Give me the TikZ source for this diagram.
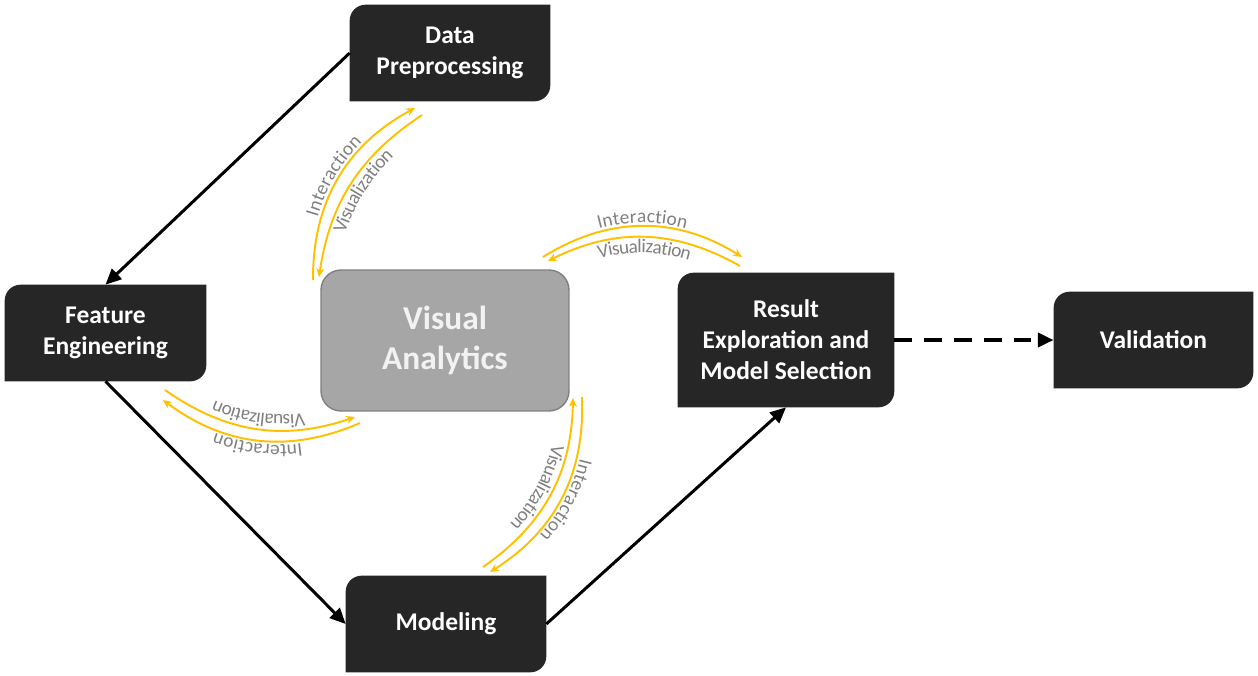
\documentclass[tikz,border=0pt]{standalone}
\usepackage{fontspec}
\setmainfont{Carlito}
\usetikzlibrary{arrows.meta,decorations.text,backgrounds,calc}
\definecolor{boxfill}{HTML}{262626}
\definecolor{vafill}{HTML}{A6A6A6}
\definecolor{vaedge}{HTML}{808080}
\definecolor{gold}{HTML}{FFC000}
\definecolor{lblgray}{HTML}{808080}
\definecolor{vatext}{HTML}{F2F2F2}
\newcommand\lblfont{\fontsize{11}{13}\selectfont}
\begin{document}
\begin{tikzpicture}[x=0.02cm,y=0.02cm,
  stage/.style={inner sep=0pt, align=center, text=white,
    font=\fontsize{14.5}{17.6}\selectfont\bfseries,
    minimum width=4cm, minimum height=1.92cm},
  conn/.style={line width=1.7pt, -{Triangle[length=9pt,width=8pt]}},
  flow/.style={draw=gold, line width=1.1pt, -{Stealth[length=5pt,width=4.5pt]}},
  lbl/.style={decorate, decoration={text along path, text align=center,
    text color=lblgray, raise=#1}},
]
\useasboundingbox (0,0) rectangle (1258,-676);

% stage nodes
\node[stage] (dp) at (450,-53) {Data\\Preprocessing};
\node[stage, minimum width=4.02cm] (fe) at (105.5,-333) {Feature\\Engineering};
\node[stage] (mo) at (446,-624) {Modeling};
\node[stage, minimum width=4.32cm, minimum height=2.68cm] (re) at (786,-340)
  {Result\\Exploration and\\Model Selection};
\node[stage, minimum width=3.98cm] (vd) at (1153.5,-340) {Validation};

\node[draw=vaedge, line width=0.8pt, fill=vafill, rounded corners=0.4cm,
  minimum width=4.96cm, minimum height=2.82cm, text=vatext, align=center,
  font=\fontsize{19}{22.7}\selectfont\bfseries] (va) at (445,-340.5) {Visual\\Analytics};

\begin{scope}[on background layer]
\foreach \n in {dp,fe,mo,re,vd}{
  \fill[boxfill] ([yshift=-0.32cm]\n.north west) -- (\n.south west)
    -- ([xshift=-0.32cm]\n.south east) arc[start angle=270,end angle=360,radius=0.32cm]
    -- (\n.north east) -- ([xshift=0.32cm]\n.north west)
    arc[start angle=90,end angle=180,radius=0.32cm] -- cycle;
}
\end{scope}

% black connectors
\draw[conn] (dp.west) -- (fe.north);
\draw[conn] (fe.south) -- (mo.west);
\draw[conn] (mo.east) -- (re.south);
\draw[conn, line width=2.2pt, dash pattern=on 10pt off 7pt] (re.east) -- (vd.west);

% yellow interaction / visualization arcs
\coordinate (tlo1) at (313,-280); \coordinate (tlo2) at (415,-108);
\coordinate (tli1) at (422,-115); \coordinate (tli2) at (319,-277);
\coordinate (tro1) at (543,-257); \coordinate (tro2) at (742,-257);
\coordinate (tri1) at (740,-266); \coordinate (tri2) at (548,-261);
\coordinate (blo1) at (360,-423); \coordinate (blo2) at (163,-400);
\coordinate (bli1) at (165,-390); \coordinate (bli2) at (355,-417);
\coordinate (bro1) at (582,-397); \coordinate (bro2) at (490,-572);
\coordinate (bri1) at (483,-567); \coordinate (bri2) at (573,-398);

\draw[flow] (tlo1) to[bend left=31] (tlo2);
\draw[flow] (tli1) to[bend right=24] (tli2);
\path[lbl=2pt, decoration={text={|\lblfont|Interaction}}] (tlo1) to[bend left=31] (tlo2);
\path[lbl=-9pt, decoration={text={|\lblfont|Visualization}}] (tli2) to[bend left=24] (tli1);

\draw[flow] (tro1) to[bend left=32] (tro2);
\draw[flow] (tri1) to[bend right=28] (tri2);
\path[lbl=2pt, decoration={text={|\lblfont|Interaction}}] (tro1) to[bend left=32] (tro2);
\path[lbl=-9pt, decoration={text={|\lblfont|Visualization}}] (tri2) to[bend left=28] (tri1);

\draw[flow] (blo1) to[bend left=30] (blo2);
\draw[flow] (bli1) to[bend right=27] (bli2);
\path[lbl=2pt, decoration={text={|\lblfont|Interaction}}] (blo1) to[bend left=30] (blo2);
\path[lbl=-9pt, decoration={text={|\lblfont|Visualization}}] (bli2) to[bend left=27] (bli1);

\draw[flow] (bro1) to[bend left=30] (bro2);
\draw[flow] (bri1) to[bend right=27] (bri2);
\path[lbl=2pt, decoration={text={|\lblfont|Interaction}}] (bro1) to[bend left=30] (bro2);
\path[lbl=-9pt, decoration={text={|\lblfont|Visualization}}] (bri2) to[bend left=27] (bri1);
\end{tikzpicture}
\end{document}
